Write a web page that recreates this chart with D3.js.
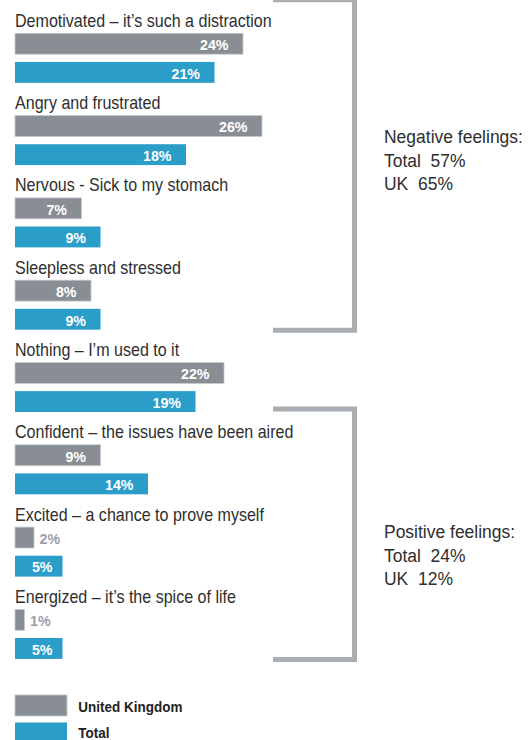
<!DOCTYPE html>
<html>
<head>
<meta charset="utf-8">
<script src="https://cdn.jsdelivr.net/npm/d3@7"></script>
<style>
  html, body { margin: 0; padding: 0; background: #fff; }
  svg { display: block; }
  .lbl { font-family: "Liberation Sans", Arial, sans-serif; }
  .pre { white-space: pre; }
</style>
</head>
<body>
<svg id="chart" width="532" height="740"></svg>
<script>
const categories = [
  "Demotivated – it’s such a distraction",
  "Angry and frustrated",
  "Nervous - Sick to my stomach",
  "Sleepless and stressed",
  "Nothing – I’m used to it",
  "Confident – the issues have been aired",
  "Excited – a chance to prove myself",
  "Energized – it’s the spice of life"
];
const ukValues = [24, 26, 7, 8, 22, 9, 2, 1];
const totalValues = [21, 18, 9, 9, 19, 14, 5, 5];
const seriesNames = ["United Kingdom", "Total"];
const groups = [
  { title: "Negative feelings:", lines: ["Total  57%", "UK  65%"], from: 0, to: 3 },
  { title: "Positive feelings:", lines: ["Total  24%", "UK  12%"], from: 5, to: 7 }
];

const colors = { "United Kingdom": "#898e94", "Total": "#2a9dc9" };
const bracketColor = "#a9aeb3";
const textColor = "#2e2e2e";

const svg = d3.select("#chart");
const x = d3.scaleLinear().domain([0, 26]).range([15, 262]);
const y = d3.scaleBand().domain(categories).range([33.3, 33.3 + 82.3 * 8]).paddingInner(0).paddingOuter(0);
const sub = d3.scaleBand().domain(seriesNames).range([0, 49.5]).paddingInner(0.27);

const data = categories.map((c, i) => ({ cat: c, values: [
  { s: "United Kingdom", v: ukValues[i] },
  { s: "Total", v: totalValues[i] }
]}));

const g = svg.selectAll("g.cat").data(data).join("g")
  .attr("class", "cat")
  .attr("transform", d => `translate(0,${y(d.cat)})`);

g.append("text")
  .attr("class", "lbl")
  .attr("transform", "translate(15,-6.5) scale(0.918,1)")
  .attr("font-size", 17.5)
  .attr("fill", textColor)
  .text(d => d.cat);

const bars = g.selectAll("g.bar").data(d => d.values).join("g").attr("class", "bar");
bars.append("rect")
  .attr("x", x(0))
  .attr("y", d => sub(d.s))
  .attr("width", d => x(d.v) - x(0))
  .attr("height", sub.bandwidth())
  .attr("fill", d => colors[d.s])
  .attr("stroke", d => d.s === "United Kingdom" ? "#c4c8cc" : "none")
  .attr("stroke-width", 0.8);

const isSmall = d => (x(d.v) - x(0)) < 30;
bars.append("text")
  .attr("class", "lbl")
  .attr("font-weight", "bold")
  .attr("font-size", 15)
  .attr("transform", d => {
    const px = isSmall(d) ? x(d.v) + 5.5 : x(d.v) - ((x(d.v) - x(0)) < 55 ? 10 : 14.5);
    return `translate(${px},${sub(d.s) + 16.7}) scale(0.95,1)`;
  })
  .attr("text-anchor", d => isSmall(d) ? "start" : "end")
  .attr("fill", d => isSmall(d) ? "#9ba0a6" : "#ffffff")
  .text(d => d.v + "%");

// brackets
const bx0 = 273, bx1 = 354.5;
groups.forEach((gr, k) => {
  const top = k === 0 ? y(categories[gr.from]) - 33.5 : y(categories[gr.from]) - 35.8;
  const bottom = y(categories[gr.to]) + 50;
  svg.append("path")
    .attr("d", `M${bx0},${top}H${bx1}V${bottom}H${bx0}`)
    .attr("fill", "none")
    .attr("stroke", bracketColor)
    .attr("stroke-width", 5);
  const mid = k === 0 ? 143.3 : 538.3;
  const t = svg.append("text").attr("class", "lbl pre")
    .attr("transform", `translate(384,${mid}) scale(0.92,1)`)
    .attr("font-size", 19).attr("fill", textColor);
  [gr.title].concat(gr.lines).forEach((ln, j) => {
    t.append("tspan").attr("x", 0).attr("y", j * 23.5).text(ln);
  });
});

// legend
const lg = svg.selectAll("g.leg").data(seriesNames).join("g")
  .attr("class", "leg")
  .attr("transform", (d, i) => `translate(15,${695 + i * 27.5})`);
lg.append("rect").attr("width", 52).attr("height", 21)
  .attr("fill", d => colors[d])
  .attr("stroke", d => d === "United Kingdom" ? "#c4c8cc" : "none")
  .attr("stroke-width", 0.8);
lg.append("text").attr("class", "lbl")
  .attr("transform", (d, i) => `translate(63.3,${i === 0 ? 16.5 : 15.8}) scale(0.93,1)`)
  .attr("font-size", 14.5).attr("font-weight", "bold")
  .attr("fill", "#222")
  .text(d => d);
</script>
</body>
</html>
